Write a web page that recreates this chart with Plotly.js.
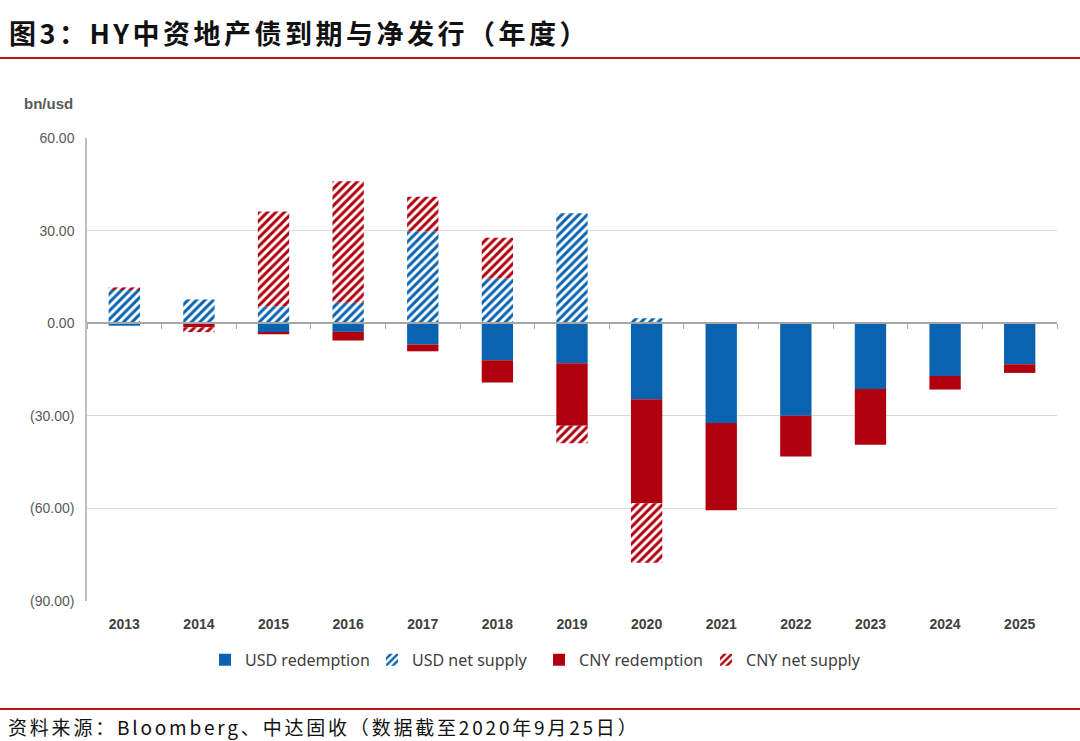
<!DOCTYPE html>
<html>
<head>
<meta charset="utf-8">
<script src="https://cdn.plot.ly/plotly-3.0.1.min.js"></script>
<style>
  body{margin:0;background:#fff;}
  #wrap{position:relative;width:1080px;height:741px;overflow:hidden;}
  #chart{position:absolute;left:0;top:0;width:1080px;height:741px;}
  #title{position:absolute;left:9px;top:13px;font-family:"Noto Sans CJK SC",sans-serif;font-weight:700;font-size:27px;letter-spacing:3.5px;color:#111;white-space:nowrap;}
  #topline{position:absolute;left:0;top:57px;width:1080px;height:2px;background:#c0151b;}
  #botline{position:absolute;left:0;top:708px;width:1080px;height:2px;background:#c0151b;}
  #source{position:absolute;left:8px;top:713px;font-family:"Noto Sans CJK SC",sans-serif;font-size:19px;letter-spacing:2.8px;color:#111;white-space:nowrap;}
</style>
</head>
<body>
<div id="wrap">
  <div id="chart"></div>
  <div id="title">图3：HY中资地产债到期与净发行（年度）</div>
  <div id="topline"></div>
  <div id="botline"></div>
  <div id="source">资料来源：Bloomberg、中达固收（数据截至2020年9月25日）</div>
</div>
<script>
// HY中资地产债 - 到期与净发行 (bn/usd)
const years = ['2013','2014','2015','2016','2017','2018','2019','2020','2021','2022','2023','2024','2025'];
const usdRedemption = [-0.8, 0, -3.1, -2.8, -6.9, -12.0, -13.0, -24.6, -32.3, -30.0, -21.3, -17.1, -13.3];
const usdNetSupply  = [11.0, 7.7, 5.5, 6.6, 29.8, 14.5, 35.6, 1.6, 0, 0, 0, 0, 0];
const cnyRedemption = [0, -1.3, -0.5, -2.8, -2.2, -7.2, -20.2, -33.7, -28.3, -13.2, -18.1, -4.4, -2.8];
const cnyNetSupply  = [0.6, -1.6, 30.7, 39.4, 11.2, 13.2, -5.7, -19.3, 0, 0, 0, 0, 0];
const yTickVals = [60, 30, 0, -30, -60, -90];
const yTickText = ['60.00', '30.00', '0.00', '(30.00)', '(60.00)', '(90.00)'];

const BLUE = '#0a63b0';
const RED = '#b0000e';

function hatch(){
  return {shape:'/', bgcolor:'#ffffff', size:6, solidity:0.5, fillmode:'replace'};
}

const traces = [
  {x:years, y:usdRedemption, name:'USD redemption', type:'bar', marker:{color:BLUE}},
  {x:years, y:usdNetSupply, name:'USD net supply', type:'bar', marker:{color:BLUE, pattern:hatch()}},
  {x:years, y:cnyRedemption, name:'CNY redemption', type:'bar', marker:{color:RED}},
  {x:years, y:cnyNetSupply, name:'CNY net supply', type:'bar', marker:{color:RED, pattern:hatch()}},
  // holder trace so the zero-line category axis gets drawn
  {x:years, y:years.map(()=>null), xaxis:'x2', type:'scatter', mode:'markers', showlegend:false, hoverinfo:'skip'}
];

const tickFont = {family:'Liberation Sans, Arial, sans-serif', size:14, color:'#595959'};

Plotly.newPlot('chart', traces, {
  width:1080, height:741,
  barmode:'relative',
  bargap:0.58,
  margin:{l:87, r:23, t:138, b:140},
  paper_bgcolor:'rgba(0,0,0,0)',
  plot_bgcolor:'rgba(0,0,0,0)',
  showlegend:true,
  legend:{orientation:'h', x:0.466, xanchor:'center', y:-0.127, yanchor:'middle',
    font:{family:'Noto Sans, sans-serif', size:16, color:'#404040'}, itemwidth:30, traceorder:'normal',
    entrywidth:122, entrywidthmode:'pixels'},
  xaxis:{type:'category', categoryarray:years, range:[-0.5, 12.5], autorange:false, showline:false, ticks:'',
    showgrid:false, zeroline:false, ticklabelstandoff:13,
    tickfont:{family:'Liberation Sans, Arial, sans-serif', size:14, color:'#404040', weight:700}},
  xaxis2:{type:'category', categoryarray:years, overlaying:'x', matches:'x', anchor:'free', position:0.6,
    showline:true, linecolor:'#a6a6a6', linewidth:2, ticks:'outside', tickson:'boundaries', ticklen:5,
    tickcolor:'#a6a6a6', showticklabels:false, showgrid:false, zeroline:false},
  yaxis:{range:[-90,60], tickmode:'array', tickvals:yTickVals, ticktext:yTickText, tickfont:tickFont,
    showgrid:true, gridcolor:'#d9d9d9', gridwidth:1, zeroline:false, showline:true, linecolor:'#bfbfbf',
    linewidth:1.5, ticks:'', ticklabelstandoff:8},
  annotations:[
    {text:'<b>bn/usd</b>', xref:'paper', yref:'paper', x:-0.067, y:1.0, yshift:35, xanchor:'left', yanchor:'middle',
      showarrow:false, font:{family:'Liberation Sans, Arial, sans-serif', size:15, color:'#595959'}}
  ]
}, {displayModeBar:false, responsive:false});
</script>
</body>
</html>
